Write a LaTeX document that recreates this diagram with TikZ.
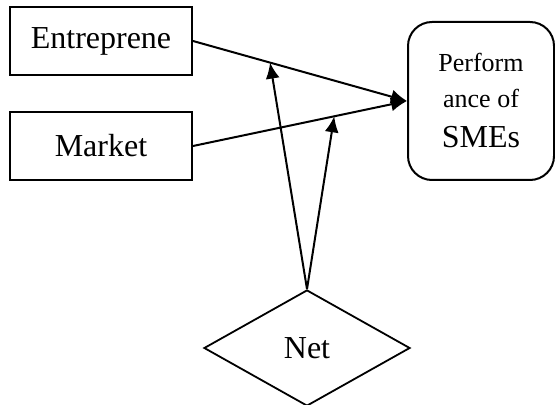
\documentclass[tikz,border=0pt]{standalone}
\usepackage{fontspec}
\setmainfont{Liberation Serif}
\usetikzlibrary{arrows.meta,shapes.geometric}
\tikzset{
  varbox/.style={draw,line width=1pt,minimum width=91pt,minimum height=34pt,inner sep=0pt,font=\fontsize{16}{19}\selectfont},
  perfbox/.style={draw,line width=1pt,rounded corners=12pt,minimum width=73pt,minimum height=79pt,inner sep=0pt,align=center,font=\fontsize{13}{18}\selectfont},
  netbox/.style={draw,diamond,line width=0.9pt,aspect=1.78,minimum width=103pt,minimum height=58pt,inner sep=0pt,font=\fontsize{16}{19}\selectfont},
  link/.style={line width=1pt,-{Latex[length=8pt,width=7pt]}}
}
\begin{document}
\begin{tikzpicture}[x=0.5pt,y=-0.5pt]
\useasboundingbox (0,0) rectangle (555,405);
\node[varbox] (ent) at (101,41) {Entreprene};
\node[varbox] (mkt) at (101,146) {Market};
\node[perfbox] (perf) at (481,101) {Perform\\ance of\\[2pt]{\fontsize{16}{18}\selectfont SMEs}};
\node[netbox] (net) at (307,348) {Net};

\path[draw,link] (ent.east) -- coordinate[pos=0.36] (onent) (perf.west);
\path[draw,link] (mkt.east) -- coordinate[pos=0.66] (onmkt) (perf.west);

\path[draw,link] (net.north) -- (onent);
\path[draw,link] (net.north) -- (onmkt);
\end{tikzpicture}
\end{document}
